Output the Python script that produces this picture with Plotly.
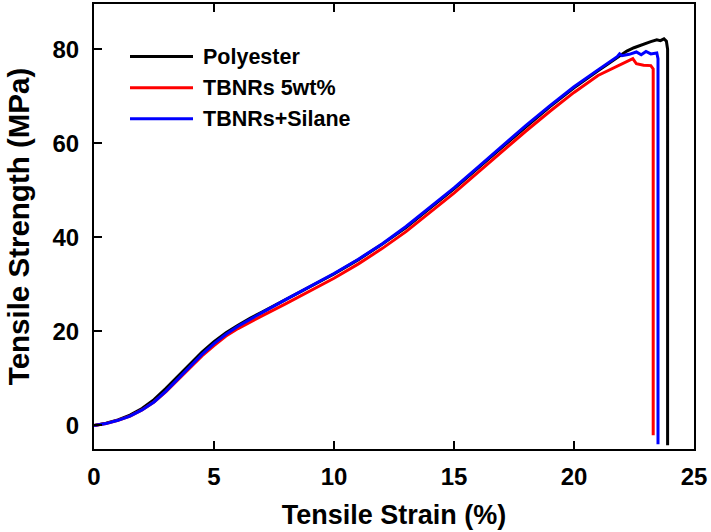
import plotly.graph_objects as go

# tensile curves (strain %, stress MPa)
strain_poly = [0, 0.5, 1, 1.5, 2, 2.5, 3, 3.5, 4, 4.5, 5, 5.5, 6, 6.5, 7, 8, 9, 10, 11, 12,
               13, 14, 15, 16, 17, 18, 19, 20, 21, 21.8, 22.2, 22.5, 22.8, 23.0, 23.2,
               23.45, 23.6, 23.75, 23.85, 23.9, 23.9]
stress_poly = [0, 0.5, 1.2, 2.2, 3.6, 5.5, 7.9, 10.5, 13.2, 15.6, 17.8, 19.7, 21.3, 22.8, 24.1,
               26.8, 29.4, 32.2, 35.2, 38.5, 42.1, 46.1, 50.3, 54.7, 59.2, 63.5, 67.8, 71.8,
               75.4, 78.3, 79.6, 80.3, 80.9, 81.3, 81.6, 82.0, 81.8, 82.2, 81.7, 80.0, -4.2]

strain_tbnr = [0, 0.5, 1, 1.5, 2, 2.5, 3, 3.5, 4, 4.5, 5, 5.5, 6, 6.5, 7, 8, 9, 10, 11, 12,
               13, 14, 15, 16, 17, 18, 19, 20, 21, 21.8, 22.3, 22.45, 22.6, 22.9, 23.2,
               23.3, 23.3]
stress_tbnr = [0, 0.4, 1.1, 2.0, 3.3, 5.0, 7.2, 9.7, 12.3, 14.8, 17.0, 19.0, 20.6, 22.0, 23.3,
               25.9, 28.6, 31.3, 34.3, 37.6, 41.2, 45.2, 49.4, 53.8, 58.3, 62.6, 66.8, 70.8,
               74.4, 76.4, 77.7, 78.0, 76.9, 76.6, 76.5, 75.8, -2.1]

strain_sil = [0, 0.5, 1, 1.5, 2, 2.5, 3, 3.5, 4, 4.5, 5, 5.5, 6, 6.5, 7, 8, 9, 10, 11, 12,
              13, 14, 15, 16, 17, 18, 19, 20, 21, 21.8, 21.9, 22.0, 22.3, 22.6, 22.8, 23.0,
              23.2, 23.45, 23.5, 23.5]
stress_sil = [0, 0.4, 1.1, 2.0, 3.3, 5.0, 7.3, 9.9, 12.6, 15.1, 17.4, 19.4, 21.1, 22.6, 24.0,
              26.8, 29.5, 32.3, 35.3, 38.6, 42.3, 46.3, 50.5, 54.9, 59.4, 63.8, 68.0, 72.0,
              75.6, 78.4, 79.0, 78.6, 78.9, 79.4, 78.8, 79.5, 79.0, 79.2, 78.0, -4.0]

series = [
    ('Polyester', strain_poly, stress_poly, '#000000'),
    ('TBNRs 5wt%', strain_tbnr, stress_tbnr, '#ff0000'),
    ('TBNRs+Silane', strain_sil, stress_sil, '#0000ff'),
]

FONT = 'Liberation Sans, Arial, sans-serif'

fig = go.Figure()
for name, x, y, c in series:
    fig.add_trace(go.Scatter(x=x, y=y, mode='lines', name=name,
                             line=dict(color=c, width=3), showlegend=False))

# hand-made legend (long line samples like the original)
legend_y = [0.882, 0.812, 0.742]
for (name, x, y, c), ly in zip(series, legend_y):
    fig.add_shape(type='line', xref='paper', yref='paper', x0=0.06, x1=0.165,
                  y0=ly, y1=ly, line=dict(color=c, width=3))
    fig.add_annotation(xref='paper', yref='paper', x=0.178, y=ly, text=name,
                       showarrow=False, xanchor='left', yanchor='middle',
                       font=dict(family=FONT, size=21.5, color='black', weight='bold'))

fig.update_xaxes(range=[0, 25], tickvals=[0, 5, 10, 15, 20, 25], automargin=False,
                 ticks='inside', ticklen=8, tickwidth=1.5, tickcolor='black',
                 showline=True, linewidth=2, linecolor='black', mirror='ticks',
                 showgrid=False, zeroline=False, ticklabelstandoff=5,
                 tickfont=dict(family=FONT, size=24, color='black', weight='bold'),
                 title=dict(text='Tensile Strain (%)', standoff=16,
                            font=dict(family=FONT, size=27, color='black', weight='bold')))
fig.update_yaxes(range=[-5, 89.6], tickvals=[0, 20, 40, 60, 80], automargin=False,
                 ticks='inside', ticklen=8, tickwidth=1.5, tickcolor='black',
                 showline=True, linewidth=2, linecolor='black', mirror=True,
                 showgrid=False, zeroline=False, ticklabelstandoff=8,
                 tickfont=dict(family=FONT, size=24, color='black', weight='bold'),
                 title=dict(text='Tensile Strength (MPa)', standoff=14,
                            font=dict(family=FONT, size=29.5, color='black', weight='bold')))

fig.update_layout(width=711, height=532, plot_bgcolor='white', paper_bgcolor='white',
                  margin=dict(l=94, r=17, t=4, b=83, autoexpand=False))

# page body has an 8px default margin; drop it so the chart sits at the corner
fig.write_html("out.html", config={'displayModeBar': False},
               post_script="document.body.style.margin='0';")
